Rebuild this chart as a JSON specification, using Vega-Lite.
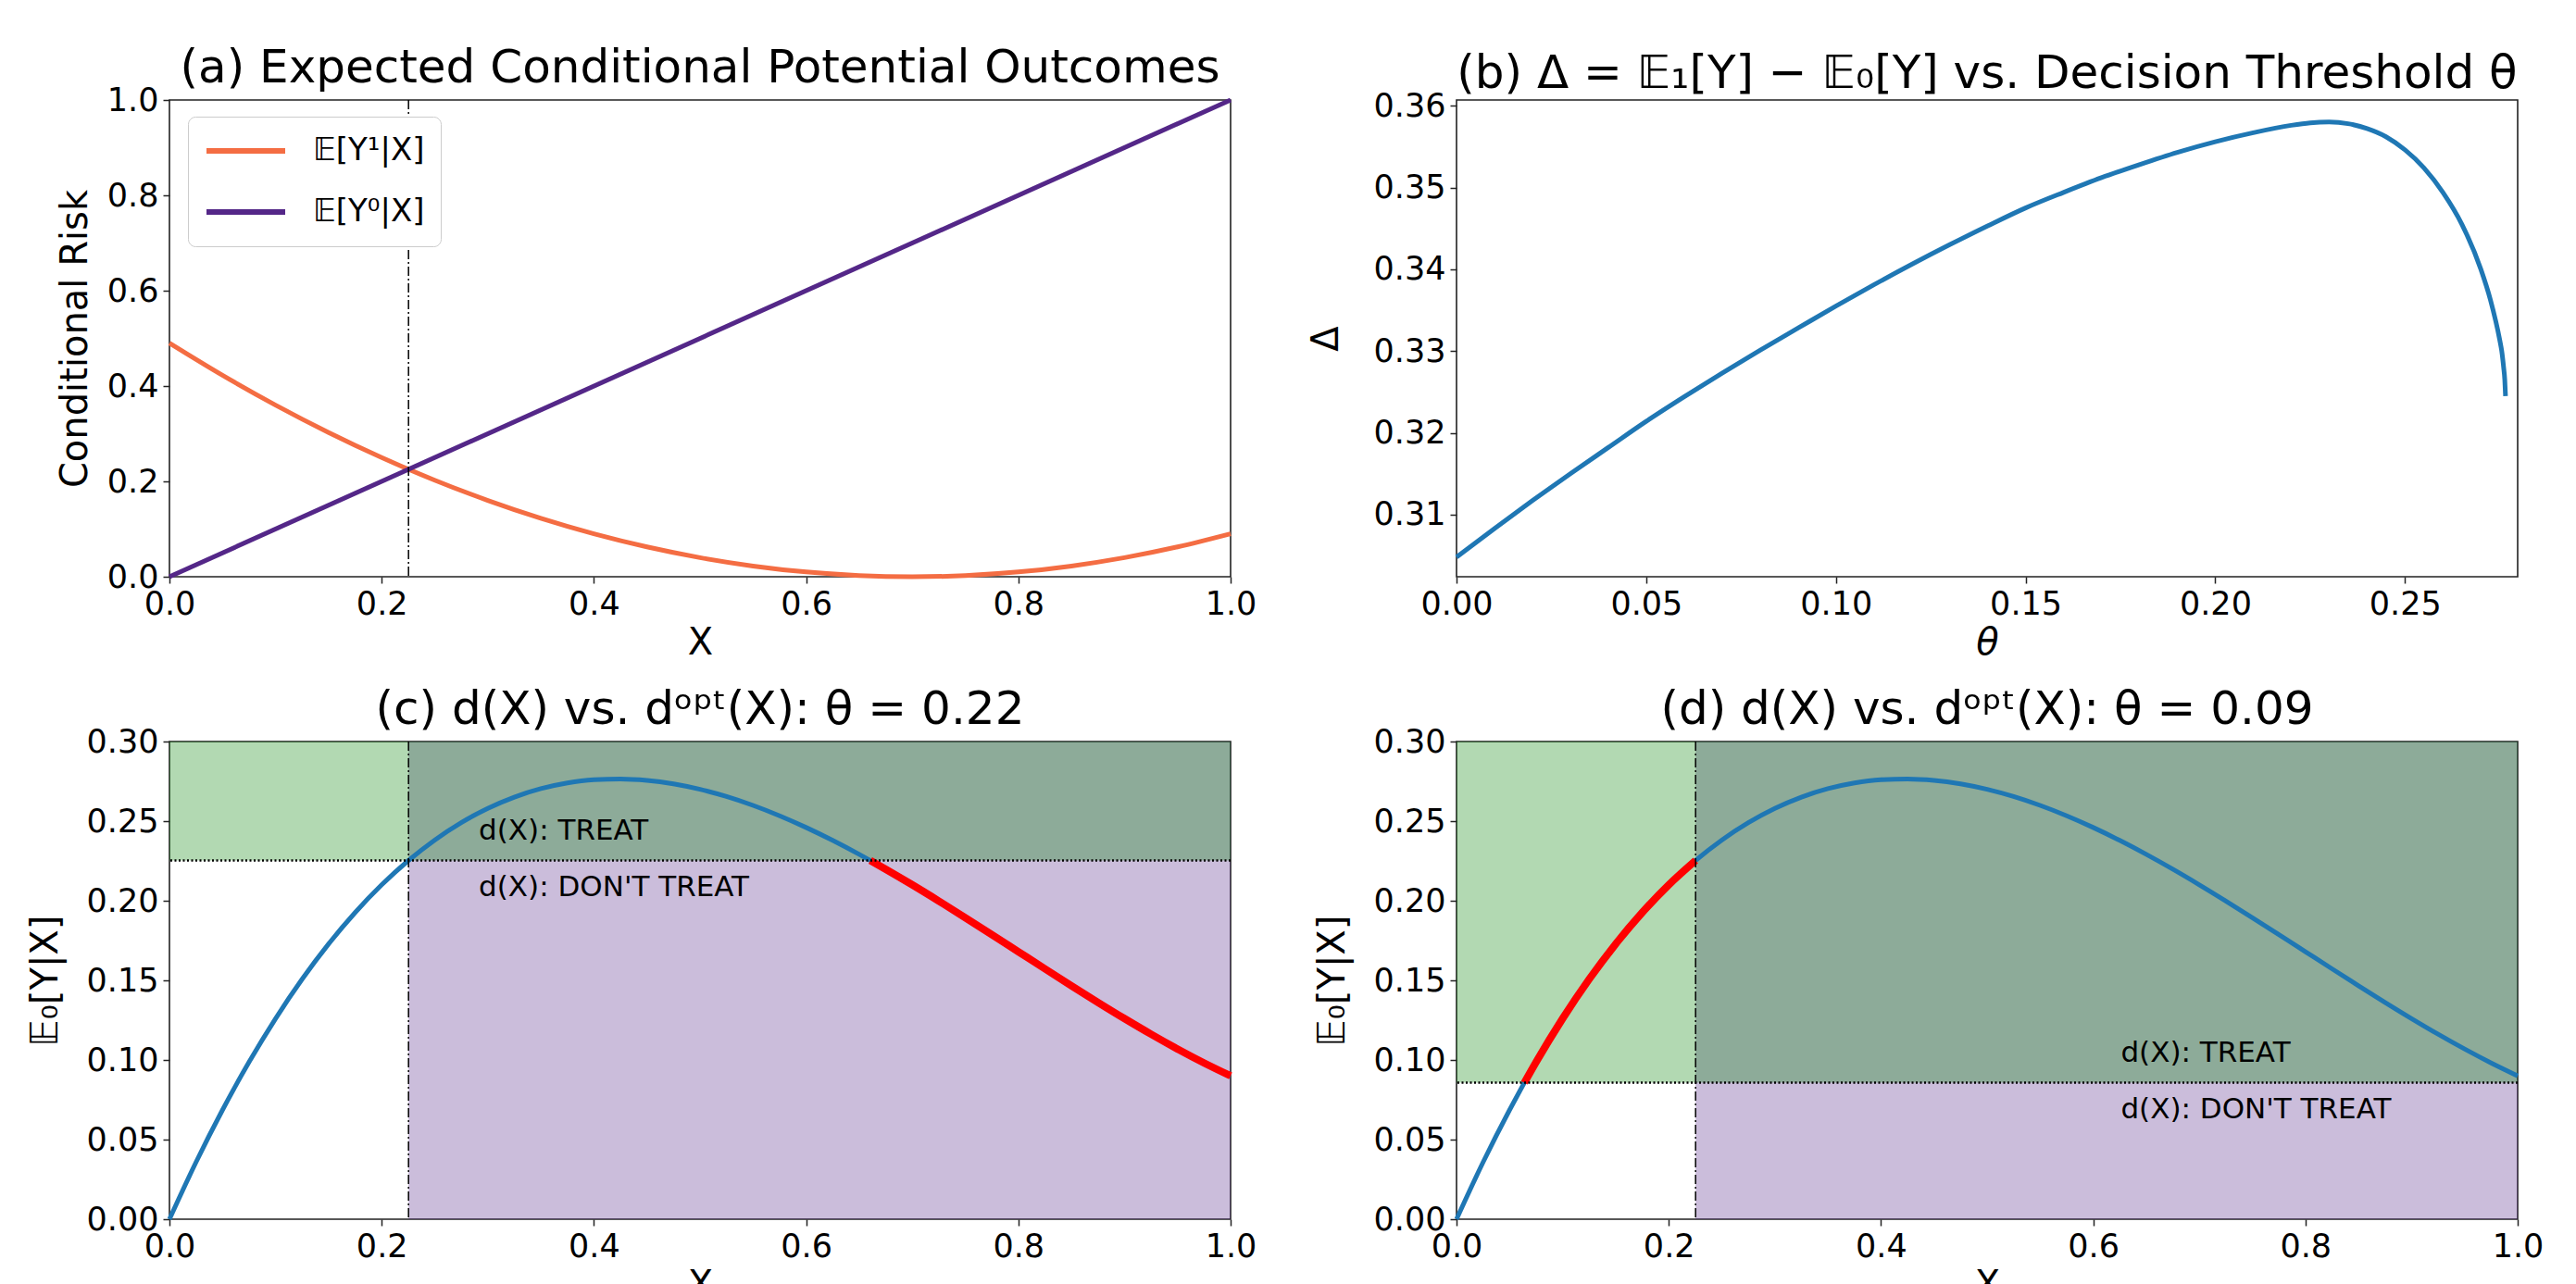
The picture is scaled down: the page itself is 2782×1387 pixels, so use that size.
{
  "$schema": "https://vega.github.io/schema/vega-lite/v6.json",
  "background": "white",
  "padding": {"left": 28, "top": 48, "right": 5, "bottom": 5},
  "config": {
    "font": "DejaVu Sans",
    "view": {"stroke": "#222222", "strokeWidth": 1.6},
    "axis": {"grid": false, "domain": false, "tickSize": 7, "tickWidth": 1.5, "tickColor": "#222222", "labelFontSize": 35, "labelColor": "black", "labelPadding": 5, "titleFontSize": 40, "titleFontWeight": "normal", "titleColor": "black", "labelFlush": false, "labelOverlap": false},
    "axisX": {"titlePadding": 4},
    "axisY": {"titlePadding": 14},
    "title": {"fontSize": 50, "fontWeight": "normal", "color": "black", "offset": -8, "anchor": "middle"},
    "legend": {"labelFont": "DejaVu Sans"}
  },
  "datasets": {
    "a_lines": [
      {"x": 0, "y": 0.49, "series": "𝔼[Y¹|X]"},
      {"x": 0.05, "y": 0.4225, "series": "𝔼[Y¹|X]"},
      {"x": 0.1, "y": 0.36, "series": "𝔼[Y¹|X]"},
      {"x": 0.15, "y": 0.3025, "series": "𝔼[Y¹|X]"},
      {"x": 0.2, "y": 0.25, "series": "𝔼[Y¹|X]"},
      {"x": 0.25, "y": 0.2025, "series": "𝔼[Y¹|X]"},
      {"x": 0.3, "y": 0.16, "series": "𝔼[Y¹|X]"},
      {"x": 0.35, "y": 0.1225, "series": "𝔼[Y¹|X]"},
      {"x": 0.4, "y": 0.09, "series": "𝔼[Y¹|X]"},
      {"x": 0.45, "y": 0.0625, "series": "𝔼[Y¹|X]"},
      {"x": 0.5, "y": 0.04, "series": "𝔼[Y¹|X]"},
      {"x": 0.55, "y": 0.0225, "series": "𝔼[Y¹|X]"},
      {"x": 0.6, "y": 0.01, "series": "𝔼[Y¹|X]"},
      {"x": 0.65, "y": 0.0025, "series": "𝔼[Y¹|X]"},
      {"x": 0.7, "y": 0, "series": "𝔼[Y¹|X]"},
      {"x": 0.75, "y": 0.0025, "series": "𝔼[Y¹|X]"},
      {"x": 0.8, "y": 0.01, "series": "𝔼[Y¹|X]"},
      {"x": 0.85, "y": 0.0225, "series": "𝔼[Y¹|X]"},
      {"x": 0.9, "y": 0.04, "series": "𝔼[Y¹|X]"},
      {"x": 0.95, "y": 0.0625, "series": "𝔼[Y¹|X]"},
      {"x": 1.0, "y": 0.09, "series": "𝔼[Y¹|X]"},
      {"x": 0, "y": 0, "series": "𝔼[Y⁰|X]"},
      {"x": 1, "y": 1, "series": "𝔼[Y⁰|X]"}
    ],
    "b_delta": [
      {"theta": 0.0, "delta": 0.3048},
      {"theta": 0.01, "delta": 0.3083},
      {"theta": 0.02, "delta": 0.3117},
      {"theta": 0.03, "delta": 0.315},
      {"theta": 0.04, "delta": 0.3182},
      {"theta": 0.05, "delta": 0.3214},
      {"theta": 0.06, "delta": 0.3244},
      {"theta": 0.07, "delta": 0.3273},
      {"theta": 0.08, "delta": 0.3301},
      {"theta": 0.09, "delta": 0.3328},
      {"theta": 0.1, "delta": 0.3355},
      {"theta": 0.11, "delta": 0.3381},
      {"theta": 0.12, "delta": 0.3406},
      {"theta": 0.13, "delta": 0.343},
      {"theta": 0.14, "delta": 0.3453},
      {"theta": 0.15, "delta": 0.3475},
      {"theta": 0.16, "delta": 0.3494},
      {"theta": 0.17, "delta": 0.3512},
      {"theta": 0.18, "delta": 0.3528},
      {"theta": 0.19, "delta": 0.3543},
      {"theta": 0.2, "delta": 0.3556},
      {"theta": 0.21, "delta": 0.3567},
      {"theta": 0.22, "delta": 0.3576},
      {"theta": 0.225, "delta": 0.3579},
      {"theta": 0.23, "delta": 0.358},
      {"theta": 0.235, "delta": 0.3578},
      {"theta": 0.24, "delta": 0.3572},
      {"theta": 0.245, "delta": 0.3562},
      {"theta": 0.25, "delta": 0.3546},
      {"theta": 0.255, "delta": 0.3524},
      {"theta": 0.26, "delta": 0.3494},
      {"theta": 0.265, "delta": 0.3455},
      {"theta": 0.27, "delta": 0.34},
      {"theta": 0.2725, "delta": 0.3363},
      {"theta": 0.275, "delta": 0.3313},
      {"theta": 0.2755, "delta": 0.33},
      {"theta": 0.276, "delta": 0.328},
      {"theta": 0.2763, "delta": 0.3265},
      {"theta": 0.2765, "delta": 0.3245}
    ],
    "curve": [
      {"x": 0, "y": 0},
      {"x": 0.025, "y": 0.035766},
      {"x": 0.05, "y": 0.068625},
      {"x": 0.075, "y": 0.098672},
      {"x": 0.1, "y": 0.126},
      {"x": 0.125, "y": 0.150703},
      {"x": 0.15, "y": 0.172875},
      {"x": 0.175, "y": 0.192609},
      {"x": 0.2, "y": 0.21},
      {"x": 0.225, "y": 0.225141},
      {"x": 0.25, "y": 0.238125},
      {"x": 0.275, "y": 0.249047},
      {"x": 0.3, "y": 0.258},
      {"x": 0.325, "y": 0.265078},
      {"x": 0.35, "y": 0.270375},
      {"x": 0.375, "y": 0.273984},
      {"x": 0.4, "y": 0.276},
      {"x": 0.425, "y": 0.276516},
      {"x": 0.45, "y": 0.275625},
      {"x": 0.475, "y": 0.273422},
      {"x": 0.5, "y": 0.27},
      {"x": 0.525, "y": 0.265453},
      {"x": 0.55, "y": 0.259875},
      {"x": 0.575, "y": 0.253359},
      {"x": 0.6, "y": 0.246},
      {"x": 0.625, "y": 0.237891},
      {"x": 0.65, "y": 0.229125},
      {"x": 0.675, "y": 0.219797},
      {"x": 0.7, "y": 0.21},
      {"x": 0.725, "y": 0.199828},
      {"x": 0.75, "y": 0.189375},
      {"x": 0.775, "y": 0.178734},
      {"x": 0.8, "y": 0.168},
      {"x": 0.825, "y": 0.157266},
      {"x": 0.85, "y": 0.146625},
      {"x": 0.875, "y": 0.136172},
      {"x": 0.9, "y": 0.126},
      {"x": 0.925, "y": 0.116203},
      {"x": 0.95, "y": 0.106875},
      {"x": 0.975, "y": 0.098109},
      {"x": 1.0, "y": 0.09}
    ],
    "red_c": [
      {"x": 0.6605, "y": 0.2253},
      {"x": 0.675, "y": 0.219797},
      {"x": 0.7, "y": 0.21},
      {"x": 0.725, "y": 0.199828},
      {"x": 0.75, "y": 0.189375},
      {"x": 0.775, "y": 0.178734},
      {"x": 0.8, "y": 0.168},
      {"x": 0.825, "y": 0.157266},
      {"x": 0.85, "y": 0.146625},
      {"x": 0.875, "y": 0.136172},
      {"x": 0.9, "y": 0.126},
      {"x": 0.925, "y": 0.116203},
      {"x": 0.95, "y": 0.106875},
      {"x": 0.975, "y": 0.098109},
      {"x": 1.0, "y": 0.09}
    ],
    "red_d": [
      {"x": 0.0639, "y": 0.08567},
      {"x": 0.075, "y": 0.098672},
      {"x": 0.1, "y": 0.126},
      {"x": 0.125, "y": 0.150703},
      {"x": 0.15, "y": 0.172875},
      {"x": 0.175, "y": 0.192609},
      {"x": 0.2, "y": 0.21},
      {"x": 0.2253, "y": 0.2253}
    ],
    "purple_c": [{"x1": 0.2253, "x2": 1, "y1": 0, "y2": 0.3}],
    "green_c": [{"x1": 0, "x2": 1, "y1": 0.2253, "y2": 0.3}],
    "green_d": [{"x1": 0, "x2": 1, "y1": 0.0857, "y2": 0.3}],
    "vline": [{"x": 0.2253}],
    "hline_c": [{"y": 0.2253}],
    "hline_d": [{"y": 0.0857}],
    "text_c": [
      {"x": 0.2915, "y": 0.2437, "label": "d(X): TREAT"},
      {"x": 0.2915, "y": 0.2083, "label": "d(X): DON'T TREAT"}
    ],
    "text_d": [
      {"x": 0.626, "y": 0.1039, "label": "d(X): TREAT"},
      {"x": 0.626, "y": 0.0685, "label": "d(X): DON'T TREAT"}
    ]
  },
  "columns": 2,
  "spacing": {"row": 178, "column": 244},
  "bounds": "flush",
  "resolve": {"scale": {"color": "independent"}, "legend": {"color": "independent"}},
  "concat": [
    {
      "width": 1146, "height": 515,
      "title": "(a) Expected Conditional Potential Outcomes",
      "layer": [
        {
          "data": {"name": "a_lines"},
          "mark": {"type": "line", "strokeWidth": 5, "interpolate": "monotone"},
          "encoding": {
            "x": {"field": "x", "type": "quantitative", "scale": {"domain": [0, 1], "nice": false}, "axis": {"values": [0, 0.2, 0.4, 0.6, 0.8, 1], "format": ".1f", "title": "X"}},
            "y": {"field": "y", "type": "quantitative", "scale": {"domain": [0, 1], "nice": false}, "axis": {"values": [0, 0.2, 0.4, 0.6, 0.8, 1], "format": ".1f", "title": "Conditional Risk"}},
            "color": {"field": "series", "type": "nominal", "scale": {"domain": ["𝔼[Y¹|X]", "𝔼[Y⁰|X]"], "range": ["#f46d43", "#542788"]},
              "legend": {"title": null, "orient": "none", "legendX": 20, "legendY": 18, "symbolType": "stroke", "symbolSize": 7225, "symbolStrokeWidth": 6, "labelFontSize": 34, "labelColor": "black", "labelOffset": 27, "fillColor": "white", "strokeColor": "#cccccc", "cornerRadius": 8, "padding": 17, "rowPadding": 26, "clipHeight": 40}}
          }
        },
        {
          "data": {"name": "vline"},
          "mark": {"type": "rule", "color": "black", "strokeWidth": 1.5, "strokeDash": [10, 3, 2, 3]},
          "encoding": {"x": {"field": "x", "type": "quantitative"}}
        }
      ]
    },
    {
      "width": 1146, "height": 515,
      "title": "(b) Δ = 𝔼₁[Y] − 𝔼₀[Y] vs. Decision Threshold θ",
      "data": {"name": "b_delta"},
      "mark": {"type": "line", "strokeWidth": 5, "color": "#1f77b4", "interpolate": "monotone"},
      "encoding": {
        "x": {"field": "theta", "type": "quantitative", "scale": {"domain": [0, 0.2797], "nice": false, "zero": false}, "axis": {"values": [0, 0.05, 0.1, 0.15, 0.2, 0.25], "format": ".2f", "title": "θ", "titleFontStyle": "italic"}},
        "y": {"field": "delta", "type": "quantitative", "scale": {"domain": [0.3024, 0.3607], "nice": false, "zero": false}, "axis": {"values": [0.31, 0.32, 0.33, 0.34, 0.35, 0.36], "format": ".2f", "title": "Δ", "titlePadding": 31}}
      }
    },
    {
      "width": 1146, "height": 516,
      "title": "(c) d(X) vs. dᵒᵖᵗ(X): θ = 0.22",
      "layer": [
        {
          "data": {"name": "purple_c"},
          "mark": {"type": "rect", "color": "#522387", "opacity": 0.3},
          "encoding": {
            "x": {"field": "x1", "type": "quantitative", "scale": {"domain": [0, 1], "nice": false}, "axis": {"values": [0, 0.2, 0.4, 0.6, 0.8, 1], "format": ".1f", "title": "X"}},
            "x2": {"field": "x2"},
            "y": {"field": "y1", "type": "quantitative", "scale": {"domain": [0, 0.3], "nice": false}, "axis": {"values": [0, 0.05, 0.1, 0.15, 0.2, 0.25, 0.3], "format": ".2f", "title": "𝔼₀[Y|X]", "titlePadding": 24}},
            "y2": {"field": "y2"}
          }
        },
        {
          "data": {"name": "green_c"},
          "mark": {"type": "rect", "color": "#008000", "opacity": 0.3},
          "encoding": {"x": {"field": "x1", "type": "quantitative"}, "x2": {"field": "x2"}, "y": {"field": "y1", "type": "quantitative"}, "y2": {"field": "y2"}}
        },
        {
          "data": {"name": "curve"},
          "mark": {"type": "line", "strokeWidth": 5, "color": "#1f77b4", "interpolate": "monotone"},
          "encoding": {"x": {"field": "x", "type": "quantitative"}, "y": {"field": "y", "type": "quantitative"}}
        },
        {
          "data": {"name": "red_c"},
          "mark": {"type": "line", "strokeWidth": 8, "color": "#ff0000", "interpolate": "monotone"},
          "encoding": {"x": {"field": "x", "type": "quantitative"}, "y": {"field": "y", "type": "quantitative"}}
        },
        {
          "data": {"name": "vline"},
          "mark": {"type": "rule", "color": "black", "strokeWidth": 1.5, "strokeDash": [10, 3, 2, 3]},
          "encoding": {"x": {"field": "x", "type": "quantitative"}}
        },
        {
          "data": {"name": "hline_c"},
          "mark": {"type": "rule", "color": "black", "strokeWidth": 2.5, "strokeDash": [2, 2.5]},
          "encoding": {"y": {"field": "y", "type": "quantitative"}}
        },
        {
          "data": {"name": "text_c"},
          "mark": {"type": "text", "align": "left", "baseline": "middle", "fontSize": 31, "color": "black", "font": "DejaVu Sans"},
          "encoding": {"x": {"field": "x", "type": "quantitative"}, "y": {"field": "y", "type": "quantitative"}, "text": {"field": "label"}}
        }
      ]
    },
    {
      "width": 1146, "height": 516,
      "title": "(d) d(X) vs. dᵒᵖᵗ(X): θ = 0.09",
      "layer": [
        {
          "data": {"name": "purple_c"},
          "mark": {"type": "rect", "color": "#522387", "opacity": 0.3},
          "encoding": {
            "x": {"field": "x1", "type": "quantitative", "scale": {"domain": [0, 1], "nice": false}, "axis": {"values": [0, 0.2, 0.4, 0.6, 0.8, 1], "format": ".1f", "title": "X"}},
            "x2": {"field": "x2"},
            "y": {"field": "y1", "type": "quantitative", "scale": {"domain": [0, 0.3], "nice": false}, "axis": {"values": [0, 0.05, 0.1, 0.15, 0.2, 0.25, 0.3], "format": ".2f", "title": "𝔼₀[Y|X]", "titlePadding": 24}},
            "y2": {"field": "y2"}
          }
        },
        {
          "data": {"name": "green_d"},
          "mark": {"type": "rect", "color": "#008000", "opacity": 0.3},
          "encoding": {"x": {"field": "x1", "type": "quantitative"}, "x2": {"field": "x2"}, "y": {"field": "y1", "type": "quantitative"}, "y2": {"field": "y2"}}
        },
        {
          "data": {"name": "curve"},
          "mark": {"type": "line", "strokeWidth": 5, "color": "#1f77b4", "interpolate": "monotone"},
          "encoding": {"x": {"field": "x", "type": "quantitative"}, "y": {"field": "y", "type": "quantitative"}}
        },
        {
          "data": {"name": "red_d"},
          "mark": {"type": "line", "strokeWidth": 8, "color": "#ff0000", "interpolate": "monotone"},
          "encoding": {"x": {"field": "x", "type": "quantitative"}, "y": {"field": "y", "type": "quantitative"}}
        },
        {
          "data": {"name": "vline"},
          "mark": {"type": "rule", "color": "black", "strokeWidth": 1.5, "strokeDash": [10, 3, 2, 3]},
          "encoding": {"x": {"field": "x", "type": "quantitative"}}
        },
        {
          "data": {"name": "hline_d"},
          "mark": {"type": "rule", "color": "black", "strokeWidth": 2.5, "strokeDash": [2, 2.5]},
          "encoding": {"y": {"field": "y", "type": "quantitative"}}
        },
        {
          "data": {"name": "text_d"},
          "mark": {"type": "text", "align": "left", "baseline": "middle", "fontSize": 31, "color": "black", "font": "DejaVu Sans"},
          "encoding": {"x": {"field": "x", "type": "quantitative"}, "y": {"field": "y", "type": "quantitative"}, "text": {"field": "label"}}
        }
      ]
    }
  ]
}
